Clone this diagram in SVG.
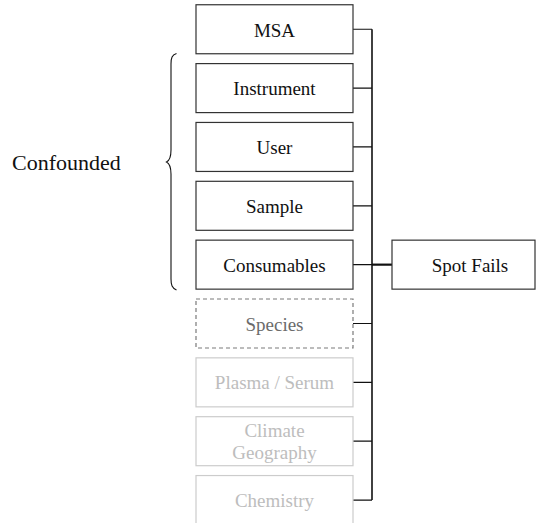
<svg xmlns="http://www.w3.org/2000/svg" width="537" height="523" viewBox="0 0 537 523" font-family="Liberation Serif, serif">
  <style>
    .box { fill: #ffffff; stroke: #333333; stroke-width: 1.2; }
    .dash { fill: #ffffff; stroke: #7a7a7a; stroke-width: 1.2; stroke-dasharray: 4 3; }
    .faint { fill: #ffffff; stroke: #cccccc; stroke-width: 1.2; }
    .lbl { font-size: 19px; text-anchor: middle; fill: #111111; }
    .lbl-mid { fill: #6b6b6b; }
    .lbl-faint { fill: #bdbdbd; }
    .wire { fill: none; stroke: #111111; stroke-width: 1.2; }
    .bus { fill: none; stroke: #111111; stroke-width: 1.6; }
  </style>

  <rect width="537" height="523" fill="#ffffff"/>

  <!-- grouping brace and its label -->
  <g id="confounded">
    <text font-family="Liberation Serif" x="66.5" y="170" font-size="22" text-anchor="middle" fill="#111111">Confounded</text>
    <path d="M176.5,53.5 C172,55 171,58 171,64 L171,150 C171,157 169.5,160.5 166.5,162 C169.5,163.5 171,167 171,174 L171,279 C171,285 172,288 176.5,290" fill="none" stroke="#111111" stroke-width="1.1"/>
  </g>

  <!-- connectors -->
  <g id="connectors">
    <path class="bus" d="M372,29.25 L372,500.05"/>
    <path class="wire" d="M353,29.25 H372 M353,88.1 H372 M353,146.95 H372 M353,205.8 H372 M353,264.65 H372 M353,323.5 H372 M353,382.35 H372 M353,441.2 H372 M353,500.05 H372"/>
    <path d="M372,264.65 H392" fill="none" stroke="#111111" stroke-width="2.2"/>
  </g>

  <g id="msa">
    <rect class="box" x="196" y="4.75" width="157" height="49"/>
    <text class="lbl" font-family="Liberation Serif" x="274.5" y="36.5">MSA</text>
  </g>
  <g id="instrument">
    <rect class="box" x="196" y="63.6" width="157" height="49"/>
    <text class="lbl" font-family="Liberation Serif" x="274.5" y="95.1">Instrument</text>
  </g>
  <g id="user">
    <rect class="box" x="196" y="122.45" width="157" height="49"/>
    <text class="lbl" font-family="Liberation Serif" x="274.5" y="153.95">User</text>
  </g>
  <g id="sample">
    <rect class="box" x="196" y="181.3" width="157" height="49"/>
    <text class="lbl" font-family="Liberation Serif" x="274.5" y="212.8">Sample</text>
  </g>
  <g id="consumables">
    <rect class="box" x="196" y="240.15" width="157" height="49"/>
    <text class="lbl" font-family="Liberation Serif" x="274.5" y="271.65">Consumables</text>
  </g>
  <g id="species">
    <rect class="dash" x="196" y="299" width="157" height="49"/>
    <text class="lbl lbl-mid" font-family="Liberation Serif" x="274.5" y="330.5">Species</text>
  </g>
  <g id="plasma-serum">
    <rect class="faint" x="196" y="357.85" width="157" height="49"/>
    <text class="lbl lbl-faint" font-family="Liberation Serif" x="274.5" y="389.35">Plasma / Serum</text>
  </g>
  <g id="climate-geography">
    <rect class="faint" x="196" y="416.7" width="157" height="49"/>
    <text class="lbl lbl-faint" font-family="Liberation Serif" x="274.5" y="436.7">Climate</text>
    <text class="lbl lbl-faint" font-family="Liberation Serif" x="274.5" y="459.3">Geography</text>
  </g>
  <g id="chemistry">
    <rect class="faint" x="196" y="475.55" width="157" height="49"/>
    <text class="lbl lbl-faint" font-family="Liberation Serif" x="274.5" y="506.8">Chemistry</text>
  </g>

  <g id="spot-fails">
    <rect class="box" x="392" y="240.15" width="143" height="49"/>
    <text class="lbl" font-family="Liberation Serif" x="470" y="271.65">Spot Fails</text>
  </g>
</svg>
